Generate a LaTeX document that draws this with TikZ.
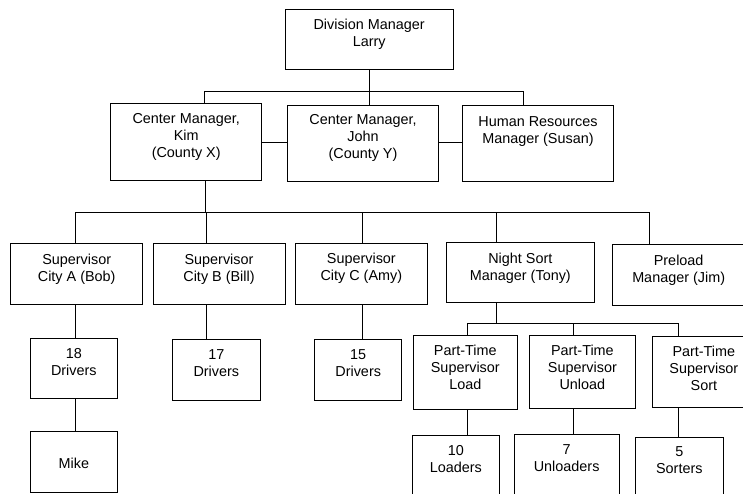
\documentclass[tikz,border=0pt]{standalone}
\usepackage{fontspec}
\setmainfont{Liberation Sans}
\tikzset{
  boxn/.style={draw=black, line width=1pt, inner sep=0pt, outer sep=0pt, anchor=north west},
  txt/.style={inner sep=0pt, align=center, font=\fontsize{14.4pt}{17pt}\selectfont,
    execute at begin node=\strut, execute at end node=\strut},
  conn/.style={draw=black, line width=1pt}
}
\newcommand\orgbox[7]{%
  \node[boxn, minimum width={#4pt-#2pt}, minimum height={#5pt-#3pt}] (#1) at (#2,#3) {};
  \node[txt] (#1t) at ({(#2+#4)/2},{#6+1.5}) {#7};}
\begin{document}
\begin{tikzpicture}[x=1pt,y=-1pt]
\useasboundingbox (0,0) rectangle (743,493);
\clip (0,0) rectangle (743,493);
\fill[white] (0,0) rectangle (743,493);

\orgbox{div}{285}{9}{453.3}{69.3}{33.7}{Division Manager\\Larry}
\orgbox{kim}{110.7}{103.7}{261.7}{180.3}{136.5}{Center Manager,\\Kim\\(County X)}
\orgbox{john}{287.7}{105.3}{438.3}{181.7}{137.5}{Center Manager,\\John\\(County Y)}
\orgbox{hr}{462.7}{105}{613.3}{181.7}{131}{Human Resources\\Manager (Susan)}
\orgbox{supa}{10.7}{243.3}{142.7}{304}{268.7}{Supervisor\\City A (Bob)}
\orgbox{supb}{153}{243.3}{285}{304}{268.5}{Supervisor\\City B (Bill)}
\orgbox{supc}{295.7}{243.3}{427}{304}{268.3}{Supervisor\\City C (Amy)}
\orgbox{night}{446.7}{242.3}{594}{302.7}{267.7}{Night Sort\\Manager (Tony)}
\orgbox{pre}{612.3}{244.5}{745}{305.3}{269.8}{Preload\\Manager (Jim)}
\orgbox{dra}{30}{338.3}{117.7}{398.3}{362.7}{18\\Drivers}
\orgbox{mike}{30}{431.3}{117.7}{492.3}{464}{Mike}
\orgbox{drb}{172.3}{339.3}{260.3}{400}{364}{17\\Drivers}
\orgbox{drc}{314.7}{339.3}{401.7}{400.3}{364}{15\\Drivers}
\orgbox{ptl}{413.3}{335}{517.3}{409}{368}{Part-Time\\Supervisor\\Load}
\orgbox{ptu}{529.5}{335}{635.3}{408}{368}{Part-Time\\Supervisor\\Unload}
\orgbox{pts}{652.7}{336}{755}{407.3}{369}{Part-Time\\Supervisor\\Sort}
\orgbox{lo}{412.3}{435.3}{499.3}{500}{459.7}{10\\Loaders}
\orgbox{un}{514.3}{434.7}{619}{500}{459.3}{7\\Unloaders}
\orgbox{so}{635.3}{437.3}{723.3}{500}{461.3}{5\\Sorters}

% junction coordinates
\coordinate (j1) at (204,91.3);
\coordinate (j3) at (523.3,91.3);
\coordinate (k2) at (205,212.3);
\coordinate (b2l) at (75,212.3);
\coordinate (vb) at (206,212.3);
\coordinate (vc) at (362.7,212.3);
\coordinate (vn) at (496.7,212.3);
\coordinate (b2r) at (649,212.3);
\coordinate (p1) at (467,323.3);
\coordinate (p2) at (573,323.3);
\coordinate (p3) at (678.7,323.3);
\coordinate (pn) at (496.7,323.3);

% level 1
\draw[conn] (div.south) -- (div.south |- j1);
\draw[conn] (j1 |- kim.north) -- (j1) -- (j3) -- (j3 |- hr.north);
\draw[conn] (div.south |- j1) -- (div.south |- john.north);
\draw[conn] (kim.east) -- (kim.east -| john.west);
\draw[conn] (kim.east -| john.east) -- (kim.east -| hr.west);

% level 2
\draw[conn] (k2 |- kim.south) -- (k2);
\draw[conn] (b2l |- supa.north) -- (b2l) -- (b2r) -- (b2r |- pre.north);
\draw[conn] (vb) -- (vb |- supb.north);
\draw[conn] (vc) -- (vc |- supc.north);
\draw[conn] (vn) -- (vn |- night.north);

% drivers
\draw[conn] (b2l |- supa.south) -- (b2l |- dra.north);
\draw[conn] (b2l |- dra.south) -- (b2l |- mike.north);
\draw[conn] (vb |- supb.south) -- (vb |- drb.north);
\draw[conn] (vc |- supc.south) -- (vc |- drc.north);

% night sort
\draw[conn] (pn |- night.south) -- (pn);
\draw[conn] (p1 |- ptl.north) -- (p1) -- (p3) -- (p3 |- pts.north);
\draw[conn] (p2) -- (p2 |- ptu.north);
\draw[conn] (p1 |- ptl.south) -- (p1 |- lo.north);
\draw[conn] (p2 |- ptu.south) -- (p2 |- un.north);
\draw[conn] (p3 |- pts.south) -- (p3 |- so.north);
\end{tikzpicture}
\end{document}
